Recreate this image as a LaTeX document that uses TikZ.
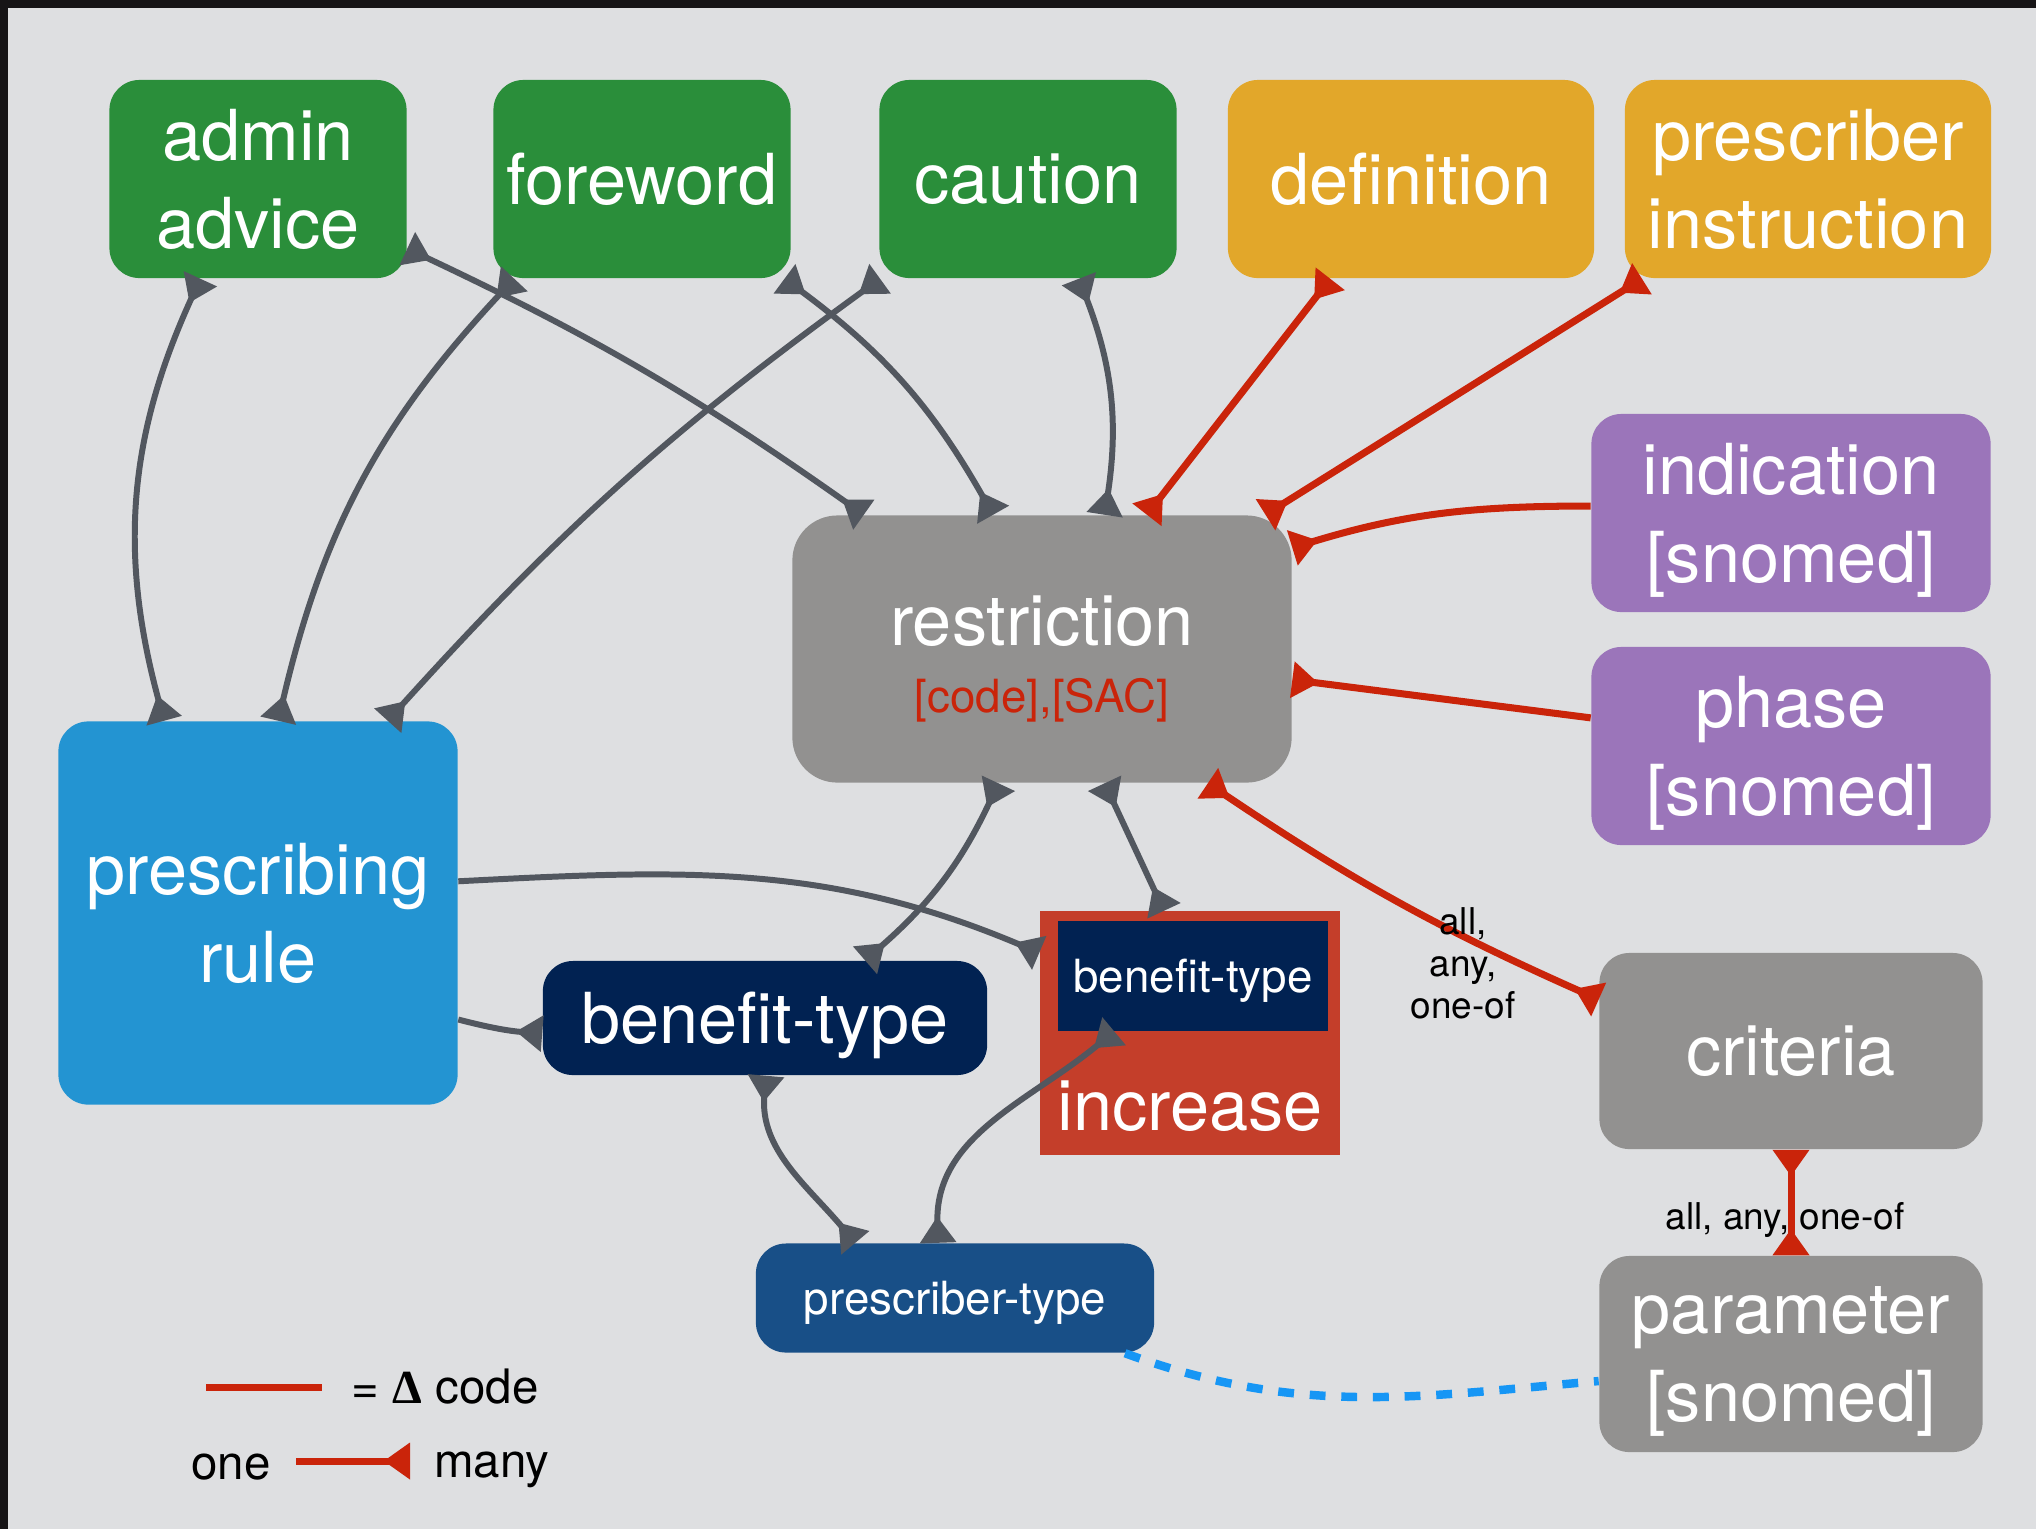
\documentclass[tikz,border=0pt]{standalone}
\usepackage{fontspec}
\setmainfont{TeX Gyre Heros}
\newfontfamily\deltafont{Liberation Serif}
\usepackage{tikz}
\usetikzlibrary{arrows.meta}
\usetikzlibrary{shapes,shapes.geometric}
\tikzset{>={Triangle[reversed,width=10pt,length=7.5pt]}}

\definecolor{framedark}{RGB}{22,20,22}
\definecolor{bggray}{RGB}{222,223,225}
\definecolor{admingreen}{RGB}{42,142,58}
\definecolor{defyellow}{RGB}{226,167,42}
\definecolor{snopurple}{RGB}{155,117,186}
\definecolor{restgray}{RGB}{146,145,144}
\definecolor{rulebblue}{RGB}{35,148,210}
\definecolor{benefnavy}{RGB}{1,34,82}
\definecolor{incred}{RGB}{196,62,42}
\definecolor{ptypeblue}{RGB}{24,79,135}
\definecolor{linegray}{RGB}{82,87,95}
\definecolor{codered}{RGB}{202,36,10}
\definecolor{linkblue}{RGB}{22,150,245}

\newcommand{\boxfont}{\fontsize{20}{25}\selectfont}
\newcommand{\subfont}{\fontsize{13}{16}\selectfont}
\newcommand{\keyfont}{\fontsize{13.5}{16}\selectfont}
\newcommand{\labfont}{\fontsize{10.5}{12}\selectfont}

\tikzset{
  tbox/.style={rounded corners=0.3cm, text=white, align=center, font=\boxfont, inner sep=0pt, text depth=0pt},
  greenbox/.style={tbox, fill=admingreen, minimum width=2.97cm, minimum height=1.98cm},
  yellowbox/.style={tbox, fill=defyellow, minimum width=3.66cm, minimum height=1.98cm},
  purplebox/.style={tbox, fill=snopurple, minimum width=3.99cm, minimum height=1.98cm},
  graybox/.style={tbox, fill=restgray, minimum width=3.83cm, minimum height=1.96cm},
  gline/.style={draw=linegray, line width=1.7pt},
  rline/.style={draw=codered, line width=2pt},
  dline/.style={draw=linkblue, line width=2.4pt, dash pattern=on 4.5pt off 4.5pt},
  labtext/.style={font=\labfont, align=center, inner sep=0pt},
  keytext/.style={font=\keyfont, inner sep=0pt}
}

\begin{document}
\begin{tikzpicture}[x=0.01cm, y=-0.01cm]
      \fill[framedark] (0,0) rectangle (2036,1529);
      \fill[bggray] (8,8) rectangle (2036,1529);
      % top row
      \node[greenbox] (admin) at (258,179) {admin\\advice};
      \node[greenbox] (foreword) at (642,179) {foreword};
      \node[greenbox] (caution) at (1028,179) {caution};
      \node[yellowbox] (definition) at (1411,179) {definition};
      \node[yellowbox] (prescinstr) at (1808,179) {prescriber\\instruction};
      % right column
      \node[purplebox] (indication) at (1791,513) {indication\\{[snomed]}};
      \node[purplebox] (phase) at (1791,746) {phase\\{[snomed]}};
      \node[graybox] (criteria) at (1791,1051) {criteria};
      \node[graybox] (parameter) at (1791,1354) {parameter\\{[snomed]}};
      % middle
      \node[graybox, minimum width=4.99cm, minimum height=2.67cm, rounded corners=0.45cm] (restriction) at (1042,649)
        {\rule{0pt}{17pt}restriction\\[-6pt]{\subfont\color{codered}[code],[SAC]}};
      \node[tbox, fill=rulebblue, minimum width=3.99cm, minimum height=3.83cm] (rule) at (258,913) {prescribing\\rule};
      \node[tbox, fill=benefnavy, minimum width=4.44cm, minimum height=1.14cm] (benefit) at (765,1018) {benefit-type};
      \node[fill=incred, minimum width=3.00cm, minimum height=2.43cm, inner sep=0pt] (increase) at (1190,1033) {};
      \node[tbox, rounded corners=0pt, fill=benefnavy, font=\subfont, minimum width=2.70cm, minimum height=1.09cm] (incbenefit) at (1193,976) {benefit-type};
      \node[text=white, font=\boxfont, inner sep=0pt] (inctext) at (1190,1106) {increase};
      \node[tbox, fill=ptypeblue, font=\subfont, minimum width=3.98cm, minimum height=1.09cm] (prestype) at (955,1298) {prescriber-type};

      % grey links
      \draw[gline,<->] (admin.-120) to[bend right=20] (rule.116);
      \draw[gline,<->] (admin.-25) to[bend left=5] (restriction.143);
      \draw[gline,<->] (foreword.-142) to[bend right=15] (rule.84);
      \draw[gline,<->] (foreword.-35) to[bend left=12] (restriction.110);
      \draw[gline,<->] (caution.-146) to[bend right=6] (rule.56);
      \draw[gline,<->] (caution.-63) to[bend left=15] (restriction.65);
      \draw[gline,<->] (restriction.-108) to[bend left=12] (benefit.30);
      \draw[gline,<->] (restriction.-65) -- (increase.102);
      \draw[gline,->] (rule.9) to[out=3,in=157] (increase.152);
      \draw[gline,->] (rule.-28) to[bend right=5] (benefit.-176);
      \draw[gline,<->] (benefit.-89) to[out=-95,in=130] (prestype.151);
      \draw[gline,<->] (prestype.107) to[out=92,in=-140] (incbenefit.-145);

      % red links
      \draw[rline,<->] (definition.-129) -- (restriction.52);
      \draw[rline,<->] (prescinstr.-149) -- (restriction.31);
      \draw[rline,->] (indication.178) to[out=180,in=17] (restriction.22);
      \draw[rline,->] (phase.172) -- (restriction.-7);
      \draw[rline,<->] (restriction.-39) to[bend right=5] (criteria.165);
      \draw[rline,<->] (criteria.south) -- (parameter.north);
      \draw[dline] (prestype.-18) to[out=-20,in=-175] (parameter.-172);

      \node[labtext] (critlabel) at (1463,963) {all,\\any,\\one-of};
      \node[labtext] (paramlabel) at (1785,1220) {all, any, one-of};

      % key
      \coordinate (keyA) at (206,1387);
      \coordinate (keyB) at (322,1387);
      \draw[rline] (keyA) -- (keyB);
      \node[keytext, anchor=west] (keycode) at (351,1387) {= {\deltafont\bfseries Δ} code};
      \node[keytext] (keyone) at (231,1467) {one};
      \coordinate (keyC) at (296,1461);
      \coordinate (keyD) at (410,1461);
      \draw[rline,->] (keyC) -- (keyD);
      \node[keytext] (keymany) at (492,1470) {many};
    \end{tikzpicture}
\end{document}
